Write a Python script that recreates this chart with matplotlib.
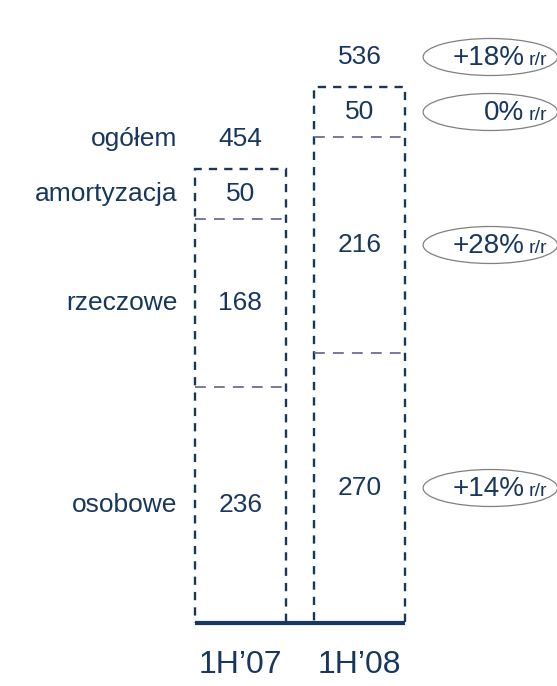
import numpy as np
import matplotlib.pyplot as plt
from matplotlib.patches import Ellipse

plt.rcParams['font.family'] = ['Liberation Sans', 'DejaVu Sans']

periods = ["1H\u201907", "1H\u201908"]
parts = ["osobowe", "rzeczowe", "amortyzacja"]
osobowe = [236, 270]
rzeczowe = [168, 216]
amortyzacja = [50, 50]
totals = [454, 536]
changes = ["+14%", "+28%", "0%"]
change_total = "+18%"

navy = "#17375e"
purple = "#6c6c9e"

fig = plt.figure(figsize=(5.57, 6.86), dpi=100)
ax = fig.add_axes([0, 0, 1, 1])
ax.set_xlim(-2.02, 2.66)
ax.set_ylim(-63, 623)
ax.axis("off")

x = np.arange(len(periods))
w = 0.77
stack = np.array([osobowe, rzeczowe, amortyzacja])
tops = stack.cumsum(axis=0)
bottoms = tops - stack

# outer dashed outline of each bar
ax.bar(x, totals, width=w, fill=False, edgecolor=navy, linewidth=1.7,
       linestyle=(0, (3.5, 3)), zorder=2)
# dashed division lines between the parts
for i in range(len(periods)):
    ax.hlines(tops[:-1, i], x[i] - w / 2, x[i] + w / 2, colors=purple,
              linewidth=1.3, linestyles=(0, (6, 4.5)), zorder=3)
ax.hlines(0, x[0] - w / 2, x[-1] + w / 2, colors=navy, linewidth=3, zorder=4)

# values inside segments
for i in range(len(periods)):
    for j in range(len(parts)):
        ax.text(x[i], bottoms[j, i] + stack[j, i] / 2, str(stack[j, i]),
                ha="center", va="center", fontsize=19, color=navy)
    ax.text(x[i], totals[i] + 30, str(totals[i]), ha="center", va="center",
            fontsize=19, color=navy)
    ax.text(x[i], -42, periods[i], ha="center", va="center", fontsize=23,
            color=navy)

# part names on the left
for j, name in enumerate(parts):
    ax.text(-0.53, bottoms[j, 0] + stack[j, 0] / 2, name, ha="right",
            va="center", fontsize=19, color=navy)
ax.text(-0.53, totals[0] + 30, "ogółem", ha="right", va="center",
        fontsize=19, color=navy)

# year-on-year change badges
ys = [bottoms[j, 1] + stack[j, 1] / 2 for j in range(len(parts))]
ys.append(totals[1] + 30)
labels = changes + [change_total]
for yc, lab in zip(ys, labels):
    ax.add_patch(Ellipse((2.1, yc), 1.13, 37, fill=False, edgecolor="#808080",
                         linewidth=0.9, zorder=1))
    ax.text(2.387, yc - 8, lab, ha="right", va="baseline", fontsize=20,
            color=navy)
    ax.text(2.42, yc - 8, "r/r", ha="left", va="baseline", fontsize=14,
            color=navy)

fig.savefig("out.png", dpi=100)
